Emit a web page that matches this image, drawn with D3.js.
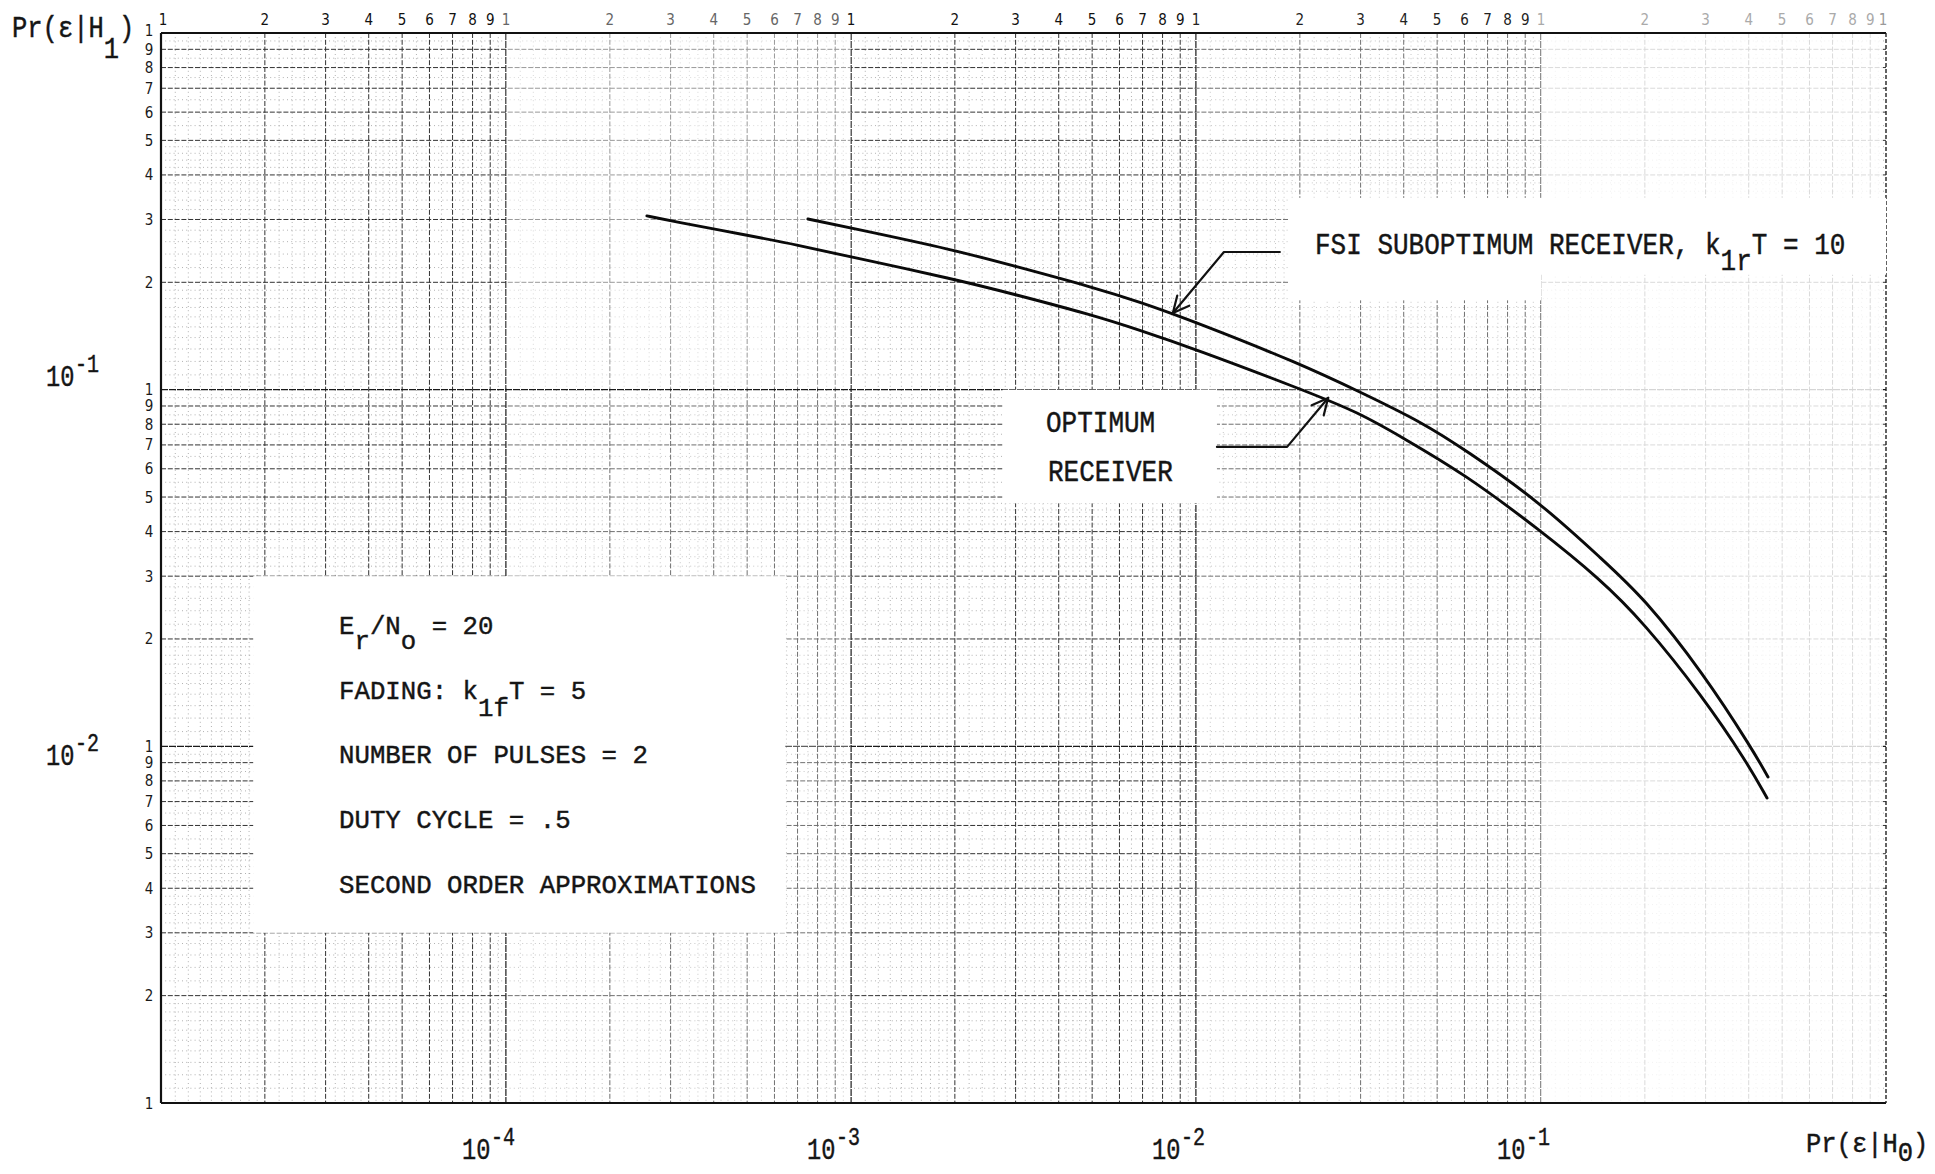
<!DOCTYPE html>
<html>
<head>
<meta charset="utf-8">
<script src="https://cdn.jsdelivr.net/npm/d3@7"></script>
<style>
  body { margin: 0; background: #fff; }
  .tw { font-family: "Liberation Mono", "DejaVu Sans Mono", monospace; fill: #151515; stroke: #151515; stroke-width: 0.45; }
  .tick { font-family: "DejaVu Sans Condensed", "DejaVu Sans", sans-serif; font-stretch: condensed; fill: #1a1a1a; }
</style>
</head>
<body>
<svg id="chart" width="1935" height="1174"></svg>
<script>
// ---- data: error probabilities Pr(e|H0) vs Pr(e|H1) ----
const optimumX = [2.56e-4, 3.03e-4, 5.0e-4, 7.0e-4, 1.0e-3, 2.0e-3, 2.95e-3, 5.0e-3, 6.84e-3, 9.93e-3,
                  1.98e-2, 2.99e-2, 3.98e-2, 5.94e-2, 9.93e-2, 0.148, 0.198, 0.295, 0.395, 0.452];
const optimumY = [0.307, 0.297, 0.271, 0.2545, 0.2355, 0.204, 0.1855, 0.162, 0.147, 0.130,
                  0.101, 0.086, 0.0732, 0.0584, 0.0404, 0.0295, 0.0223, 0.01375, 0.00904, 0.00716];

const fsiX = [7.5e-4, 1.0e-3, 2.0e-3, 2.98e-3, 5.0e-3, 6.9e-3, 9.93e-3, 1.98e-2, 2.99e-2, 4.55e-2,
              6.03e-2, 9.93e-2, 0.151, 0.198, 0.295, 0.411, 0.455];
const fsiY = [0.301, 0.284, 0.2463, 0.222, 0.194, 0.176, 0.155, 0.1188, 0.0985, 0.0807,
              0.0678, 0.0484, 0.0333, 0.0262, 0.01606, 0.00977, 0.0082];

// ---- graph paper ----
const xDecades = [1e-5, 1e-4, 1e-3, 1e-2, 1e-1];
const yDecades = [1e-3, 1e-2, 1e-1];
const majorMantissas = [1, 2, 3, 4, 5, 6, 7, 8, 9];
const fineMantissas = [1.1, 1.2, 1.3, 1.4, 1.5, 1.6, 1.7, 1.8, 1.9,
                       2.2, 2.4, 2.6, 2.8, 3.2, 3.4, 3.6, 3.8, 4.2, 4.4, 4.6, 4.8,
                       5.5, 6.5, 7.5, 8.5, 9.5];
const tickDigits = ["1", "2", "3", "4", "5", "6", "7", "8", "9"];
const topLabelShade = ["#111", "#666", "#111", "#222", "#aaa"];
const xExponents = ["-4", "-3", "-2", "-1"];
const yExponents = ["-1", "-2"];

// areas of the sheet where the printed ruling is faint, given in data units
const fadeZones = [
  { x: [1e-1, 1], y: [1e-3, 1], o: 0.82 },
  { x: [1e-4, 1e-3], y: [1e-1, 1], o: 0.5 },
  { x: [1e-4, 1e-3], y: [1e-3, 1e-1], o: 0.3 },
  { x: [1e-2, 1e-1], y: [1e-3, 1], o: 0.3 }
];
// areas pasted over with the annotation blocks
const blankZones = [
  { x: [1.85e-5, 6.45e-4], y: [0.003, 0.03] },
  { x: [2.75e-3, 0.0115], y: [0.048, 0.1] },
  { x: [0.0186, 0.1], y: [0.178, 0.345] },
  { x: [0.1, 1], y: [0.21, 0.345] }
];

// leader lines (data units): [bar start, knee, arrow tip]
const fsiLeader = [[0.0175, 0.2432], [0.01205, 0.2432], [0.00857, 0.164]];
const optLeader = [[0.0115, 0.0691], [0.01837, 0.0691], [0.02415, 0.0948]];

const svg = d3.select("#chart");
const x = d3.scaleLog().domain([1e-5, 1]).range([161, 1886]);
const y = d3.scaleLog().domain([1e-3, 1]).range([1103, 33]);
const [X0, X1] = x.range();
const [Y1, Y0] = y.range();

const grid = svg.append("g");

// fine rulings
xDecades.forEach(d => fineMantissas.forEach(m => {
  grid.append("line").attr("x1", x(m * d)).attr("x2", x(m * d)).attr("y1", Y0).attr("y2", Y1)
    .attr("stroke", "#909090").attr("stroke-width", 0.7).attr("stroke-dasharray", "1,3.2");
}));
yDecades.forEach(d => fineMantissas.forEach(m => {
  grid.append("line").attr("y1", y(m * d)).attr("y2", y(m * d)).attr("x1", X0).attr("x2", X1)
    .attr("stroke", "#909090").attr("stroke-width", 0.7).attr("stroke-dasharray", "1,3.2");
}));
// major rulings; the decade rulings are a little heavier
xDecades.forEach(d => majorMantissas.forEach(m => {
  const dec = m === 1;
  grid.append("line").attr("x1", x(m * d)).attr("x2", x(m * d)).attr("y1", Y0).attr("y2", Y1)
    .attr("stroke", dec ? "#1a1a1a" : "#333").attr("stroke-width", dec ? 1.4 : 1.0)
    .attr("stroke-dasharray", dec ? "7,1" : "5,1.8");
}));
yDecades.forEach(d => majorMantissas.forEach(m => {
  const dec = m === 1;
  grid.append("line").attr("y1", y(m * d)).attr("y2", y(m * d)).attr("x1", X0).attr("x2", X1)
    .attr("stroke", dec ? "#1a1a1a" : "#333").attr("stroke-width", dec ? 1.3 : 1.0)
    .attr("stroke-dasharray", dec ? "7,1" : "5,1.8");
}));
// frame
grid.append("line").attr("x1", X0).attr("x2", X1).attr("y1", Y0).attr("y2", Y0).attr("stroke", "#111").attr("stroke-width", 2);
grid.append("line").attr("x1", X0).attr("x2", X1).attr("y1", Y1).attr("y2", Y1).attr("stroke", "#111").attr("stroke-width", 2);
grid.append("line").attr("x1", X0).attr("x2", X0).attr("y1", Y0).attr("y2", Y1).attr("stroke", "#111").attr("stroke-width", 2.2);
grid.append("line").attr("x1", X1).attr("x2", X1).attr("y1", Y0).attr("y2", Y1).attr("stroke", "#222").attr("stroke-width", 1.4).attr("stroke-dasharray", "4,2");

// faint and pasted-over areas
fadeZones.forEach(z => {
  svg.append("rect").attr("x", x(z.x[0])).attr("y", y(z.y[1]) + 1)
    .attr("width", x(z.x[1]) - x(z.x[0]) - (z.x[1] === 1 ? 3 : 0)).attr("height", y(z.y[0]) - y(z.y[1]) - 2)
    .attr("fill", "#fff").attr("opacity", z.o);
});
blankZones.forEach(z => {
  svg.append("rect").attr("x", x(z.x[0])).attr("y", y(z.y[1]))
    .attr("width", x(z.x[1]) - x(z.x[0])).attr("height", y(z.y[0]) - y(z.y[1]))
    .attr("fill", "#fff");
});

// printed scale digits along top and left edge
xDecades.forEach((d, i) => tickDigits.forEach((t, j) => {
  svg.append("text").attr("class", "tick").attr("x", x((j + 1) * d) + (i === 0 && j === 0 ? 2 : 0)).attr("y", 25)
    .attr("text-anchor", "middle").attr("font-size", 15).style("fill", topLabelShade[i]).text(t);
}));
svg.append("text").attr("class", "tick").attr("x", x(1) - 3).attr("y", 25).attr("text-anchor", "middle")
  .attr("font-size", 15).style("fill", "#999").text("1");

yDecades.forEach(d => tickDigits.forEach((t, j) => {
  svg.append("text").attr("class", "tick").attr("x", 149).attr("y", y((j + 1) * d) + 5.5)
    .attr("text-anchor", "middle").attr("font-size", 15).text(t);
}));
svg.append("text").attr("class", "tick").attr("x", 149).attr("y", y(1) + 3)
  .attr("text-anchor", "middle").attr("font-size", 15).text("1");

// ---- curves ----
const line = d3.line().x(d => x(d[0])).y(d => y(d[1])).curve(d3.curveBasis);
const curves = svg.append("g").attr("fill", "none").attr("stroke", "#0a0a0a").attr("stroke-width", 2.9)
  .attr("stroke-linecap", "round");
curves.append("path").attr("d", line(d3.zip(optimumX, optimumY)));
curves.append("path").attr("d", line(d3.zip(fsiX, fsiY)));

// ---- leaders with open arrowheads ----
function leader(pts) {
  const p = pts.map(d => [x(d[0]), y(d[1])]);
  const g = svg.append("g").attr("fill", "none").attr("stroke", "#111").attr("stroke-width", 2.2)
    .attr("stroke-linecap", "round").attr("stroke-linejoin", "round");
  g.append("path").attr("d", d3.line()(p));
  const tip = p[2], from = p[1];
  const ang = Math.atan2(from[1] - tip[1], from[0] - tip[0]);
  [-0.45, 0.45].forEach(s => {
    g.append("line").attr("x1", tip[0]).attr("y1", tip[1])
      .attr("x2", tip[0] + 18 * Math.cos(ang + s)).attr("y2", tip[1] + 18 * Math.sin(ang + s));
  });
}
leader(fsiLeader);
leader(optLeader);

// ---- typewritten annotations ----
// parts: [string, vertical shift]; every character takes one typewriter cell of width adv
function typeLine(x0, y0, adv, parts, size) {
  const sx = adv / (0.6 * size);
  const t = svg.append("text").attr("class", "tw").attr("font-size", size)
    .attr("transform", `translate(${x0},${y0}) scale(${sx},1)`);
  let col = 0;
  parts.forEach(([s, dy]) => {
    t.append("tspan").attr("x", col * adv / sx).attr("y", dy).text(s);
    col += s.length;
  });
  return t;
}
const ADV = 15.45;
typeLine(339, 634, ADV, [["E", 0], ["r", 15], ["/N", 0], ["o", 15], [" = 20", 0]], 26.5);
typeLine(339, 699, ADV, [["FADING: k", 0], ["1f", 17], ["T = 5", 0]], 26.5);
typeLine(339, 763, ADV, [["NUMBER OF PULSES = 2", 0]], 26.5);
typeLine(339, 828, ADV, [["DUTY CYCLE = .5", 0]], 26.5);
typeLine(339, 893, ADV, [["SECOND ORDER APPROXIMATIONS", 0]], 26.5);

typeLine(1315, 254, 15.6, [["FSI SUBOPTIMUM RECEIVER, k", 0], ["1r", 16], ["T = 10", 0]], 30);
typeLine(1046, 432, 15.6, [["OPTIMUM", 0]], 30);
typeLine(1048, 481, 15.6, [["RECEIVER", 0]], 30);

// axis titles
typeLine(12, 37, 15.3, [["Pr(ε|H", 0], ["1", 21], [")", 0]], 29);
typeLine(1806, 1152, 15.3, [["Pr(ε|H", 0], ["0", 9], [")", 0]], 27);

// decade exponents
function power(xl, yb, exp) {
  typeLine(xl, yb, 14.2, [["10", 0]], 30);
  typeLine(xl + 29, yb - 14, 12, [[exp, 0]], 26);
}
[1e-4, 1e-3, 1e-2, 1e-1].forEach((v, i) => power(x(v) - 44, 1159, xExponents[i]));
[1e-1, 1e-2].forEach((v, i) => power(46, y(v) + (i === 0 ? -4 : 19), yExponents[i]));
</script>
</body>
</html>
